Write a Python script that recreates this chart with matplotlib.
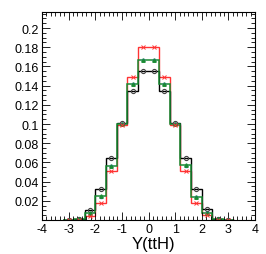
import numpy as np
import matplotlib
matplotlib.use("Agg")
import matplotlib.pyplot as plt
from matplotlib.ticker import MultipleLocator

plt.rcParams['font.family'] = ['Liberation Sans', 'DejaVu Sans']

edges = [-3.2, -2.8, -2.4, -2.0, -1.6, -1.2, -0.8, -0.4, 0.0, 0.4, 0.8, 1.2, 1.6, 2.0, 2.4, 2.8, 3.2]
black = [0.0003, 0.0015, 0.0105, 0.032, 0.0646, 0.101, 0.1347, 0.155,
         0.155, 0.1347, 0.101, 0.0646, 0.032, 0.0112, 0.0015, 0.0003]
green = [0.0002, 0.001, 0.0072, 0.0245, 0.0565, 0.100, 0.1417, 0.1667,
         0.1667, 0.1417, 0.100, 0.0568, 0.0243, 0.0073, 0.001, 0.0002]
red = [0.0001, 0.0005, 0.0045, 0.0175, 0.0507, 0.099, 0.149, 0.1806,
       0.1806, 0.149, 0.099, 0.0507, 0.0177, 0.0049, 0.0005, 0.0001]

edges = np.array(edges)
centers = 0.5 * (edges[:-1] + edges[1:])

fig = plt.figure(figsize=(2.66, 2.55), dpi=100)
ax = fig.add_axes([42/266, 1 - 221/255, 213/266, 208/255])

def hist(vals, col, lw=1.0):
    ax.stairs(vals, edges, color=col, lw=lw)

hist(red, '#ff3333')
hist(black, 'black')
hist(green, '#1a8c33', lw=1.1)

ax.errorbar(centers, red, xerr=0.08, fmt='x', color='#ff3333', ms=2.5, mew=0.7, elinewidth=0.6)
ax.plot(centers, black, 'o', mfc='none', mec='#444444', ms=3, mew=0.8)
ax.plot(centers, np.array(green) - 0.0005, 's', color='#4466dd', ms=2)
ax.plot(centers, green, '^', color='#1a8c33', ms=2.5)

ax.set_xlim(-4, 4)
ax.set_ylim(0, 0.2167)
ax.xaxis.set_major_locator(MultipleLocator(1))
ax.xaxis.set_minor_locator(MultipleLocator(1/6))
ax.yaxis.set_major_locator(MultipleLocator(0.02))
ax.yaxis.set_minor_locator(MultipleLocator(0.005))
ax.tick_params(which='both', direction='in', top=True, right=True, labelsize=9, width=0.6, pad=2)
ax.tick_params(which='major', length=6)
ax.tick_params(which='minor', length=3)
ax.set_yticks([0.02, 0.04, 0.06, 0.08, 0.1, 0.12, 0.14, 0.16, 0.18, 0.2])
ax.set_yticklabels(['0.02', '0.04', '0.06', '0.08', '0.1', '0.12', '0.14', '0.16', '0.18', '0.2'])
ax.set_xticks(range(-4, 5))
ax.set_xticklabels([str(i) for i in range(-4, 5)])
for s in ax.spines.values():
    s.set_linewidth(0.8)

ax.set_xlabel('Y(ttH)', fontsize=12)
ax.xaxis.set_label_coords(0.525, -0.075)

fig.savefig('out.png', dpi=100)
